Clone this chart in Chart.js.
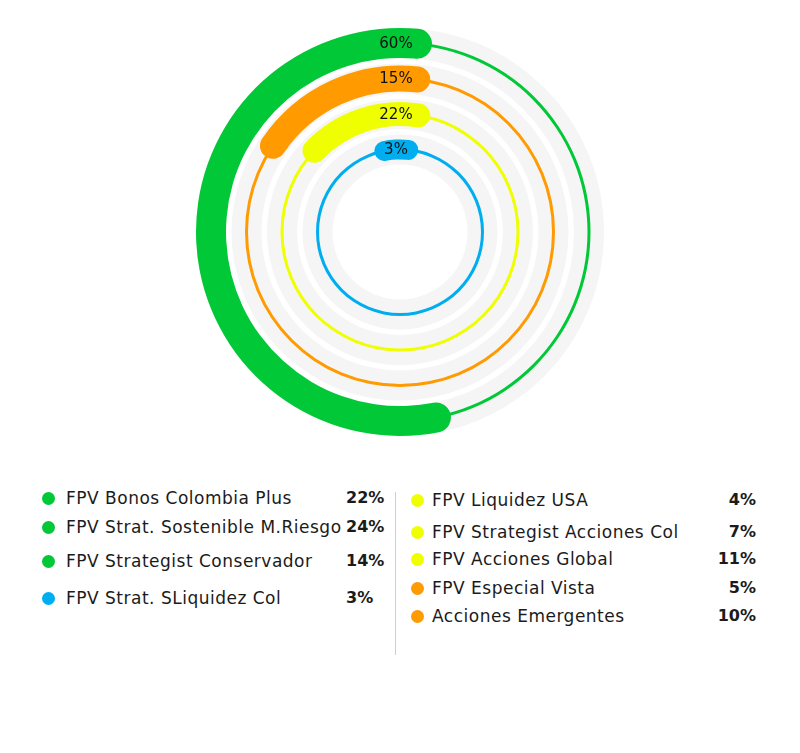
<!DOCTYPE html>
<html lang="es">
<head>
  <meta charset="UTF-8">
  <title>Composición del portafolio FPV</title>
  <script src="https://cdn.jsdelivr.net/npm/chart.js"></script>
  <style>
    body {
      margin: 0;
      background: #fff;
      font-family: 'DejaVu Sans', sans-serif;
      color: #1b1b1b;
    }

    #wrap {
      position: relative;
      width: 800px;
      height: 753px;
    }

    .ring {
      position: absolute;
      left: 195px;
      top: 27px;
      width: 410px;
      height: 410px;
    }

    .leg {
      position: absolute;
      font-size: 17px;
      letter-spacing: 0.5px;
      line-height: 20px;
      white-space: nowrap;
    }

    .dot {
      position: absolute;
      width: 13px;
      height: 13px;
      border-radius: 50%;
    }

    .val {
      font-size: 16px;
      letter-spacing: 0;
      font-weight: bold;
    }

    #divider {
      position: absolute;
      left: 395px;
      top: 492px;
      width: 1px;
      height: 163px;
      background: #cfcfcf;
    }
  </style>
</head>

<body>
  <div id="wrap">
    <div class="ring"><canvas id="trackChart"></canvas></div>
    <div class="ring"><canvas id="lineChart"></canvas></div>
    <div class="ring"><canvas id="arcChart"></canvas></div>
    <div id="divider"></div>
  </div>

  <script>
    // fondos (leyenda)
    const fundNames = [
      'FPV Bonos Colombia Plus',
      'FPV Strat. Sostenible M.Riesgo',
      'FPV Strategist Conservador',
      'FPV Strat. SLiquidez Col',
      'FPV Liquidez USA',
      'FPV Strategist Acciones Col',
      'FPV Acciones Global',
      'FPV Especial Vista',
      'Acciones Emergentes'
    ];
    const fundShares = [22, 24, 14, 3, 4, 7, 11, 5, 10];
    const fundRing = [0, 0, 0, 3, 2, 2, 2, 1, 1]; // anillo al que pertenece cada fondo

    // anillos, de afuera hacia adentro
    const ringNames = ['Verde', 'Naranja', 'Amarillo', 'Azul'];
    // largo del arco grueso tal como se ve en la imagen (% de la vuelta)
    const ringSweep = [57, 20, 18.6, 8.5];

    // estilo de cada anillo
    const ringColors = ['#00c837', '#ff9a00', '#efff00', '#00aeef'];
    const ringStyle = [
      { r: 189, thick: 30, end: 9.7 },
      { r: 153.5, thick: 26, end: 11.3 },
      { r: 118, thick: 24, end: 14.7 },
      { r: 82.5, thick: 20, end: 12.7 }
    ];
    const OUTER = 205;
    const TRACK = 30;
    const LINE = 3;

    // total de cada anillo = suma de sus fondos
    const ringTotals = ringNames.map((n, i) =>
      fundShares.filter((v, k) => fundRing[k] === i).reduce((a, b) => a + b, 0));

    // apila los anillos con separadores transparentes
    function stackRings(width, makeSet) {
      const sets = [];
      let edge = OUTER;
      ringStyle.forEach((s, i) => {
        const top = s.r + width(s) / 2;
        if (edge - top > 0.01) {
          sets.push({ data: [1], backgroundColor: 'rgba(0,0,0,0)', weight: edge - top, borderWidth: 0, hoverOffset: 0 });
        }
        sets.push(Object.assign({ weight: width(s), borderWidth: 0, hoverOffset: 0 }, makeSet(i)));
        edge = top - width(s);
      });
      return { sets, cutout: edge };
    }

    function ringChart(id, width, makeSet, plugins) {
      const { sets, cutout } = stackRings(width, makeSet);
      return new Chart(document.getElementById(id), {
        type: 'doughnut',
        data: { labels: ['resto', 'valor'], datasets: sets },
        options: {
          responsive: true,
          maintainAspectRatio: false,
          cutout: cutout,
          animation: false,
          events: [],
          layout: { padding: 0 },
          plugins: { legend: { display: false }, tooltip: { enabled: false } }
        },
        plugins: plugins || []
      });
    }

    // etiquetas de % sobre el arco
    const ringLabels = {
      id: 'ringLabels',
      afterDatasetsDraw(chart) {
        const ctx = chart.ctx;
        ctx.save();
        ctx.font = '15px "DejaVu Sans"';
        ctx.fillStyle = '#111';
        ctx.textAlign = 'center';
        ctx.textBaseline = 'middle';
        chart.data.datasets.forEach((ds, d) => {
          if (ds.ring === undefined) return;
          const arc = chart.getDatasetMeta(d).data[1];
          const mid = (arc.innerRadius + arc.outerRadius) / 2;
          ctx.fillText(ringTotals[ds.ring] + '%', arc.x - 4, arc.y - mid + 1);
        });
        ctx.restore();
      }
    };

    // pista gris
    ringChart('trackChart', () => TRACK, i => ({ data: [1], backgroundColor: '#f5f5f5' }));
    // línea fina
    ringChart('lineChart', () => LINE, i => ({ data: [1], backgroundColor: ringColors[i] }));
    // arco grueso
    ringChart('arcChart', s => s.thick, i => ({
      ring: i,
      data: [100 - ringSweep[i], ringSweep[i]],
      backgroundColor: ['rgba(0,0,0,0)', ringColors[i]],
      rotation: ringStyle[i].end,
      borderRadius: c => c.dataIndex === 1 ? ringStyle[i].thick / 2 : 0
    }), [ringLabels]);

    // leyenda
    const legendCols = [
      { from: 0, to: 4, dotX: 42, textX: 66, valX: 346, align: 'left', rows: [498, 527, 561, 598] },
      { from: 4, to: 9, dotX: 411, textX: 432, valX: 756, align: 'right', rows: [500, 532, 559, 588, 616] }
    ];
    const wrap = document.getElementById('wrap');
    legendCols.forEach(col => {
      for (let k = col.from; k < col.to; k++) {
        const y = col.rows[k - col.from];
        const dot = document.createElement('div');
        dot.className = 'dot';
        dot.style.left = col.dotX + 'px';
        dot.style.top = (y - 6.5) + 'px';
        dot.style.background = ringColors[fundRing[k]];
        wrap.appendChild(dot);

        const name = document.createElement('div');
        name.className = 'leg';
        name.style.left = col.textX + 'px';
        name.style.top = (y - 10) + 'px';
        name.textContent = fundNames[k];
        wrap.appendChild(name);

        const val = document.createElement('div');
        val.className = 'leg val';
        val.style.top = (y - 10) + 'px';
        if (col.align === 'left') val.style.left = col.valX + 'px';
        else val.style.right = (800 - col.valX) + 'px';
        val.textContent = fundShares[k] + '%';
        wrap.appendChild(val);
      }
    });
  </script>
</body>

</html>
